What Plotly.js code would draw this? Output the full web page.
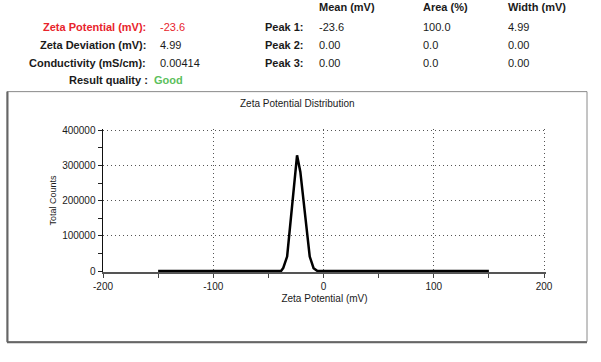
<!DOCTYPE html>
<html>
<head>
<meta charset="utf-8">
<script src="https://cdn.plot.ly/plotly-3.0.1.min.js"></script>
<style>html,body{margin:0;padding:0;background:#fff;}#chart{width:601px;height:362px;}</style>
</head>
<body>
<div id="chart"></div>
<script>
// Distribution curve (mV vs total counts)
const zetaMV = [-150, -38.5, -36.5, -33, -24, -21, -12.5, -9, -5.5, 150];
const totalCounts = [0, 0, 9000, 41000, 329000, 282000, 41000, 8000, 0, 0];

// Axis ticks
const xTickVals = [-200, -100, 0, 100, 200];
const xTickText = ["-200", "-100", "0", "100", "200"];
const yTickVals = [0, 100000, 200000, 300000, 400000];
const yTickText = ["0", "100000", "200000", "300000", "400000"];

// Summary values
const summaryLabels = ["Zeta Potential (mV):", "Zeta Deviation (mV):", "Conductivity (mS/cm):"];
const summaryValues = ["-23.6", "4.99", "0.00414"];
const qualityLabel = "Result quality :";
const qualityValue = "Good";

// Peak table
const peakLabels = ["Peak 1:", "Peak 2:", "Peak 3:"];
const peakHeaders = ["Mean (mV)", "Area (%)", "Width (mV)"];
const peakMean = ["-23.6", "0.00", "0.00"];
const peakArea = ["100.0", "0.0", "0.0"];
const peakWidth = ["4.99", "0.00", "0.00"];

const chartTitle = "Zeta Potential Distribution";
const xTitle = "Zeta Potential (mV)";
const yTitle = "Total Counts";

// plot-area pixel box and helpers pixel -> paper
const L = 103, R = 546, T = 128.5, B = 272;
const px = x => (x - L) / (R - L);
const py = y => (B - y) / (B - T);

const FONT = "Liberation Sans, Arial, sans-serif";
const RED = "#e8242c", GREEN = "#5cbf5c", DARK = "#1a1a1a";

const ann = [];
function addText(text, x, y, anchor, opts) {
  ann.push(Object.assign({
    text: text, xref: "paper", yref: "paper", x: px(x), y: py(y),
    xanchor: anchor, yanchor: "middle", showarrow: false,
    font: {family: FONT, size: 11, color: DARK}
  }, opts || {}));
}
const rowsY = [26, 44, 62];
summaryLabels.forEach((t, i) => {
  const c = i === 0 ? RED : DARK;
  addText("<b>" + t + "</b>", 148, rowsY[i], "right", {font: {family: FONT, size: 11, color: c}});
  addText(summaryValues[i], 158, rowsY[i], "left", {font: {family: FONT, size: 11, color: c}});
});
addText("<b>" + qualityLabel + "</b>", 150, 79, "right");
addText("<b>" + qualityValue + "</b>", 152, 79, "left", {font: {family: FONT, size: 11, color: GREEN}});

const colX = [317, 421, 506];
peakHeaders.forEach((h, j) => addText("<b>" + h + "</b>", colX[j], 6, "left"));
peakLabels.forEach((p, i) => {
  addText("<b>" + p + "</b>", 263, rowsY[i], "left");
  addText(peakMean[i], colX[0], rowsY[i], "left");
  addText(peakArea[i], colX[1], rowsY[i], "left");
  addText(peakWidth[i], colX[2], rowsY[i], "left");
});
addText(chartTitle, 297, 103, "center", {font: {family: FONT, size: 10, color: DARK}});

const shapes = [
  {type: "rect", xref: "paper", yref: "paper", x0: px(7), x1: px(587), y0: py(91), y1: py(342),
   line: {color: "#8a8a8a", width: 1}, fillcolor: "rgba(0,0,0,0)"},
  {type: "line", xref: "paper", yref: "paper", x0: px(7.5), x1: px(7.5), y0: py(91), y1: py(342.5),
   line: {color: "#666", width: 2}},
  {type: "line", xref: "paper", yref: "paper", x0: px(7), x1: px(587), y0: py(342.5), y1: py(342.5),
   line: {color: "#666", width: 2}}
];

const trace = {
  x: zetaMV, y: totalCounts, type: "scatter", mode: "lines",
  line: {color: "#000", width: 2.5}, hoverinfo: "skip"
};

const GRIDDASH = "1px,3px";

const layout = {
  width: 601, height: 362,
  margin: {l: L, r: 601 - R, t: T, b: 362 - B, pad: 0},
  paper_bgcolor: "#fff", plot_bgcolor: "#fff",
  showlegend: false,
  font: {family: FONT, size: 10, color: DARK},
  xaxis: {
    range: [-200, 201.8], tickvals: xTickVals, ticktext: xTickText,
    ticks: "outside", ticklen: 4, tickcolor: "#444", tickwidth: 1,
    showline: true, linecolor: "#555", linewidth: 1.5,
    showgrid: true, gridcolor: "#555", griddash: GRIDDASH, gridwidth: 1,
    zeroline: false,
    minor: {tickvals: [-150, -50, 50, 150], ticks: "outside", ticklen: 4, tickcolor: "#444", showgrid: false},
    tickfont: {family: FONT, size: 10, color: DARK},
    title: {text: xTitle, font: {family: FONT, size: 10, color: DARK}, standoff: 4}
  },
  yaxis: {
    range: [-2800, 404000], tickvals: yTickVals, ticktext: yTickText,
    ticks: "outside", ticklen: 4, tickcolor: "#222", tickwidth: 1,
    showline: true, linecolor: "#111", linewidth: 1.5,
    showgrid: true, gridcolor: "#555", griddash: GRIDDASH, gridwidth: 1,
    zeroline: false,
    minor: {tickvals: [50000, 150000, 250000, 350000], ticks: "outside", ticklen: 4, tickcolor: "#222", showgrid: false},
    tickfont: {family: FONT, size: 10, color: DARK},
    title: {text: yTitle, font: {family: FONT, size: 9, color: DARK}, standoff: 4}
  },
  annotations: ann,
  shapes: shapes
};

Plotly.newPlot("chart", [trace], layout, {displayModeBar: false, staticPlot: true});
</script>
</body>
</html>
